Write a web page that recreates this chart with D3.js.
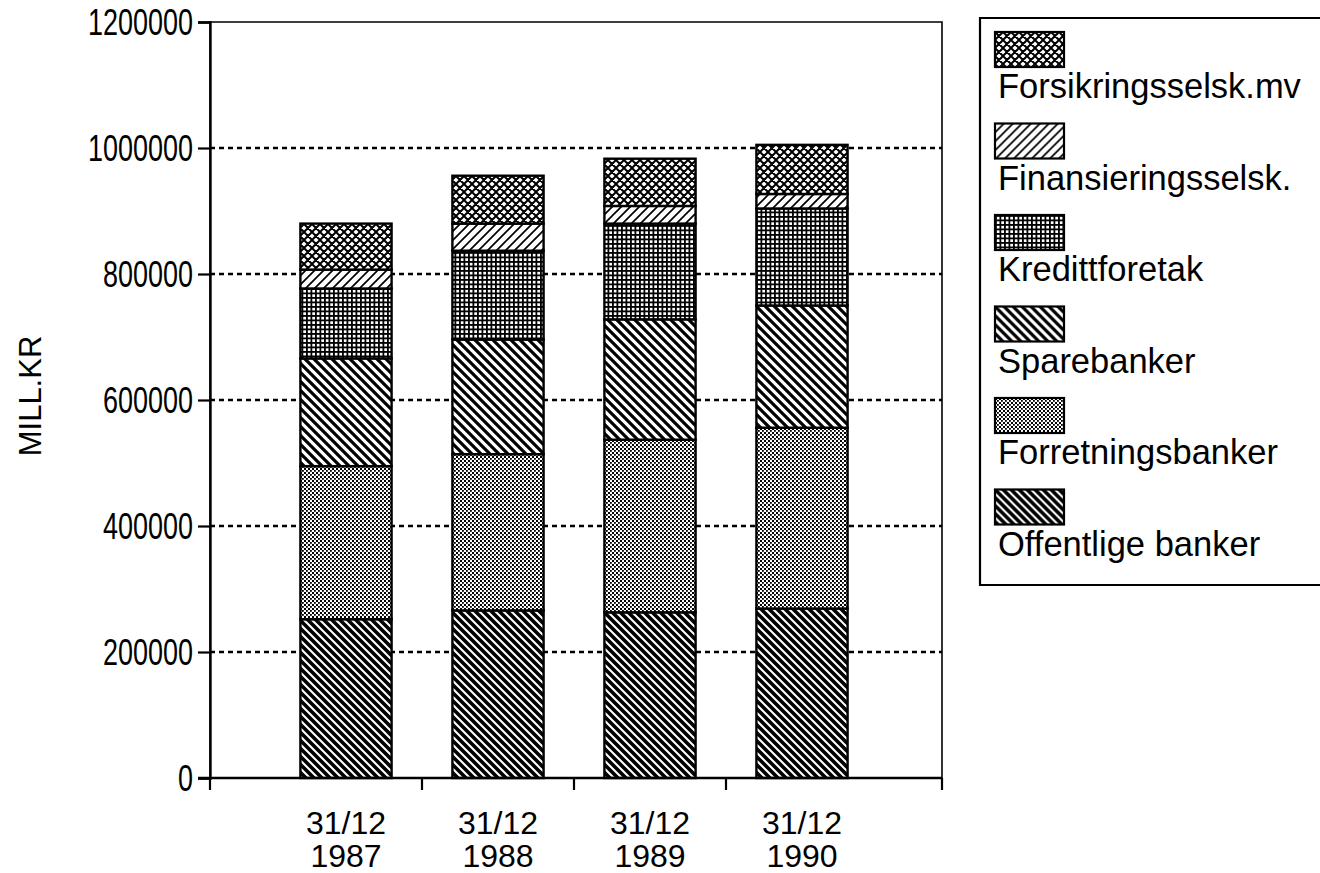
<!DOCTYPE html>
<html><head><meta charset="utf-8">
<script src="https://cdn.jsdelivr.net/npm/d3@7"></script>
<style>
html,body{margin:0;padding:0;background:#fff;overflow:hidden;}
svg text{font-family:"Liberation Sans",Arial,Helvetica,sans-serif;fill:#000;}
</style></head>
<body><svg id="c" width="1320" height="873"></svg>
<script>
const categories = ["31/12 1987","31/12 1988","31/12 1989","31/12 1990"];
const seriesNames = ["Offentlige banker","Forretningsbanker","Sparebanker","Kredittforetak","Finansieringsselsk.","Forsikringsselsk.mv"];
const offentlige = [252000, 266000, 263000, 269000];
const forretning = [243000, 248000, 274000, 287000];
const sparebanker = [171000, 182000, 191000, 194000];
const kreditt = [111000, 141000, 152000, 154000];
const finans = [30000, 43000, 28000, 23000];
const forsikring = [73000, 76000, 75000, 78000];
const yTicks = [0,200000,400000,600000,800000,1000000,1200000];
const seriesValues = [offentlige, forretning, sparebanker, kreditt, finans, forsikring];
const patternIds = ["pOff","pForr","pSpare","pKred","pFin","pFors"];

const svg = d3.select("#c");
const defs = svg.append("defs");
function pat(id,w,h){return defs.append("pattern").attr("id",id).attr("patternUnits","userSpaceOnUse").attr("width",w).attr("height",h);}
let p = pat("pOff",8,8);
p.append("rect").attr("width",8).attr("height",8).attr("fill","#fff");
p.append("path").attr("d","M-2,-2 L10,10 M-2,6 L2,10 M6,-2 L10,2").attr("stroke","#000").attr("stroke-width",3.6);
p = pat("pForr",4,4);
p.append("rect").attr("width",4).attr("height",4).attr("fill","#fff");
p.append("rect").attr("x",0).attr("y",0).attr("width",2).attr("height",2).attr("fill","#000");
p.append("rect").attr("x",2).attr("y",2).attr("width",1.8).attr("height",1.8).attr("fill","#000");
p = pat("pSpare",9,9);
p.append("rect").attr("width",9).attr("height",9).attr("fill","#fff");
p.append("path").attr("d","M-2,-2 L11,11 M-2,7 L2,11 M7,-2 L11,2").attr("stroke","#000").attr("stroke-width",3.2);
p = pat("pKred",4.5,4.5);
p.append("rect").attr("width",4.5).attr("height",4.5).attr("fill","#fff");
p.append("path").attr("d","M0,0.9 L4.5,0.9 M0.9,0 L0.9,4.5").attr("stroke","#000").attr("stroke-width",1.8);
p = pat("pFin",9,9);
p.append("rect").attr("width",9).attr("height",9).attr("fill","#fff");
p.append("path").attr("d","M-2,11 L11,-2 M-2,2 L2,-2 M7,11 L11,7").attr("stroke","#000").attr("stroke-width",1.7);
p = pat("pFors",8,8);
p.append("rect").attr("width",8).attr("height",8).attr("fill","#fff");
p.append("path").attr("d","M-1,-1 L9,9 M-1,9 L9,-1 M-1,7 L1,9 M7,-1 L9,1 M-1,1 L1,-1 M7,9 L9,7").attr("stroke","#000").attr("stroke-width",2);

const x0=210, x1=942, yTop=22, yBot=778;
const x = d3.scaleBand().domain(categories).range([270,878]).paddingInner(0.4).paddingOuter(0.2);
const y = d3.scaleLinear().domain([0,1200000]).range([yBot,yTop]);

svg.append("g").selectAll("line").data(yTicks.filter(d=>d>0 && d<1200000)).join("line")
  .attr("x1",x0).attr("x2",x1).attr("y1",d=>y(d)).attr("y2",d=>y(d))
  .attr("stroke","#000").attr("stroke-width",2.4).attr("stroke-dasharray","5,4");

const table = categories.map((c,i)=>{const o={cat:c}; seriesNames.forEach((s,j)=>o[s]=seriesValues[j][i]); return o;});
const stack = d3.stack().keys(seriesNames)(table);
const g = svg.append("g");
stack.forEach((layer,j)=>{
  g.append("g").selectAll("rect").data(layer).join("rect")
    .attr("x",d=>x(d.data.cat)).attr("width",x.bandwidth())
    .attr("y",d=>y(d[1])).attr("height",d=>y(d[0])-y(d[1]))
    .attr("fill",`url(#${patternIds[j]})`).attr("stroke","#000").attr("stroke-width",2.4);
});

svg.append("path").attr("d",`M${x0},${yBot} L${x0},${yTop} L${x1},${yTop} L${x1},${yBot}`).attr("fill","none").attr("stroke","#000").attr("stroke-width",1.6);

const yAxis = d3.axisLeft(y).tickValues(yTicks).tickFormat(d3.format("d")).tickSize(12).tickPadding(5);
const ya = svg.append("g").attr("transform",`translate(${x0},0)`).call(yAxis);
ya.select(".domain").attr("stroke","#000").attr("stroke-width",2.4);
ya.selectAll(".tick line").attr("stroke","#000").attr("stroke-width",2.2);
ya.selectAll(".tick text").attr("font-size",36).attr("font-family","Liberation Sans, Arial, sans-serif")
  .attr("dy","0.36em").attr("fill","#000")
  .attr("textLength",d=>String(d).length*15).attr("lengthAdjust","spacingAndGlyphs");

const step = x.step();
const bounds = [x0].concat(categories.slice(0,-1).map(c=>x(c)+x.bandwidth()+step*x.paddingInner()/2)).concat([x1]);
svg.append("line").attr("x1",x0-12).attr("x2",x1).attr("y1",yBot).attr("y2",yBot).attr("stroke","#000").attr("stroke-width",2.6);
svg.append("g").selectAll("line").data(bounds).join("line")
  .attr("x1",d=>d).attr("x2",d=>d).attr("y1",yBot).attr("y2",yBot+12).attr("stroke","#000").attr("stroke-width",2.2);
const xl = svg.append("g").selectAll("text").data(categories).join("text")
  .attr("x",d=>x(d)+x.bandwidth()/2).attr("y",yBot+56).attr("text-anchor","middle").attr("font-size",32);
xl.append("tspan").attr("x",d=>x(d)+x.bandwidth()/2).text(d=>d.split(" ")[0]);
xl.append("tspan").attr("x",d=>x(d)+x.bandwidth()/2).attr("dy",33).text(d=>d.split(" ")[1]);

svg.append("text").attr("transform","translate(41,396) rotate(-90)").attr("text-anchor","middle").attr("font-size",31).text("MILL.KR");

const lg = svg.append("g");
lg.append("path").attr("d","M1325,18 L980,18 L980,585 L1325,585").attr("fill","none").attr("stroke","#000").attr("stroke-width",2.2);
const legendOrder = seriesNames.map((s,j)=>({s,j})).reverse();
const li = lg.selectAll("g.item").data(legendOrder).join("g").attr("class","item")
  .attr("transform",(d,i)=>`translate(995,${32+i*91.5})`);
li.append("rect").attr("width",69).attr("height",35).attr("fill",d=>`url(#${patternIds[d.j]})`).attr("stroke","#000").attr("stroke-width",2.2);
li.append("text").attr("x",3).attr("y",66).attr("font-size",34.5).text(d=>d.s);
</script></body></html>
